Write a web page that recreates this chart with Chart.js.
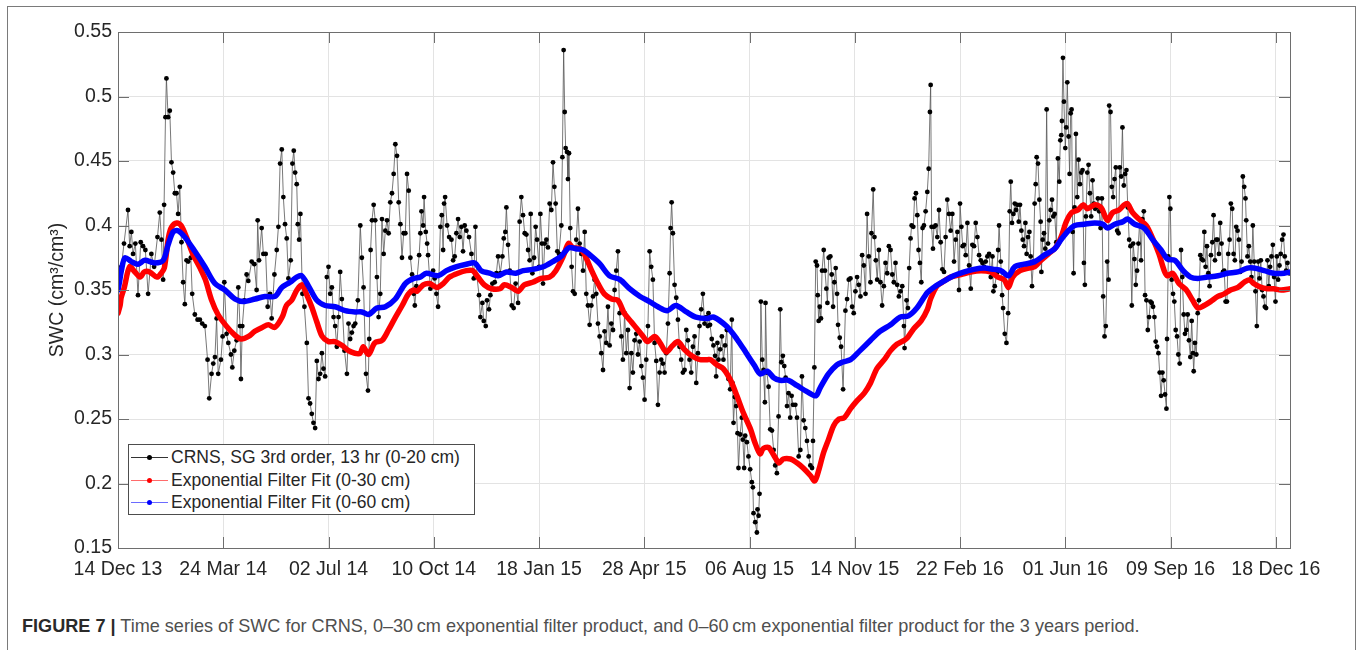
<!DOCTYPE html>
<html>
<head>
<meta charset="utf-8">
<script src="https://cdn.jsdelivr.net/npm/chart.js@4.4.0/dist/chart.umd.min.js"></script>
<style>
html, body { margin: 0; padding: 0; background: #fff; overflow: hidden; }
body { width: 1357px; height: 650px; position: relative; font-family: "Liberation Sans", Arial, sans-serif; }
#frame { position: absolute; left: 7px; top: 6px; width: 1349px; height: 700px; border: 1px solid #7a7a7a; box-sizing: border-box; }
#wrap { position: absolute; left: 0; top: 0; width: 1357px; height: 600px; }
#legend { position: absolute; left: 128px; top: 444px; width: 347px; height: 71px; border: 1px solid #4d4d4d; background: #fff; box-sizing: border-box; }
.row { position: absolute; left: 0; width: 100%; height: 22px; }
.row .ln { position: absolute; left: 2px; width: 37px; top: 11px; height: 1px; }
.row .dot { position: absolute; left: 18px; top: 9px; width: 5px; height: 5px; border-radius: 50%; }
.row .tx { position: absolute; left: 42px; top: 0; line-height: 22px; font-size: 17.5px; color: #262626; white-space: nowrap; }
#caption { position: absolute; left: 22px; top: 616px; font-size: 18.1px; line-height: 20px; color: #4f4f4f; white-space: nowrap; }
#caption b { color: #2a2a2a; }
</style>
</head>
<body>
<div id="frame"></div>
<div id="wrap"><canvas id="swcChart" width="1357" height="600"></canvas></div>
<div id="legend"></div>
<div id="caption"><b>FIGURE 7 |</b> Time series of SWC for CRNS, 0–30&#8201;cm exponential filter product, and 0–60&#8201;cm exponential filter product for the 3 years period.</div>
<script>
// days since 14 Dec 2013
const xTickDays = [0, 100, 200, 300, 400, 500, 600, 700, 800, 900, 1000, 1100];
const xTickLabels = ['14 Dec 13', '24 Mar 14', '02 Jul 14', '10 Oct 14', '18 Jan 15', '28 Apr 15',
  '06 Aug 15', '14 Nov 15', '22 Feb 16', '01 Jun 16', '09 Sep 16', '18 Dec 16'];
const yTicks = [0.15, 0.2, 0.25, 0.3, 0.35, 0.4, 0.45, 0.5, 0.55];

const seriesNames = ['CRNS, SG 3rd order, 13 hr (0-20 cm)', 'Exponential Filter Fit (0-30 cm)', 'Exponential Filter Fit (0-60 cm)'];

// CRNS (black)
const blackDays = [
  1.6,3.2,5.7,9.5,11.1,12.7,14.3,16.5,19,21.6,23.8,26,28.6,31.7,34.3,37.5,39.7,41.3,42.9,43.8,
  45.1,46,47.6,49.2,50.8,52.4,54,55.6,57.1,58.7,60.3,61.9,63.5,65.1,66.7,69.2,70.5,73,75.6,77.8,
  80,82.5,85.1,86.7,88.9,90.5,92.1,93.7,95.2,97.8,99.4,101,103.2,104.8,107.3,108.6,110.5,112.7,114.3,115.9,
  116.8,118.1,120,122.2,123.8,127,129.5,131.7,132.7,134,136.5,138.1,140.3,142.2,144.4,146,148.6,150.8,152.4,154,
  155.6,157.1,158.7,160.3,161.9,164.1,165.7,167,168.3,169.8,170.8,172.1,173.3,175.2,177.1,179.4,181,182.5,184.1,185.7,
  187.3,188.9,190.5,192.1,193.7,195.2,196.8,198.4,200,201.6,203.2,204.8,206.3,207.9,209.5,211.1,212.7,215.2,217.5,219,
  220.6,222.2,223.8,225.4,227.9,230.2,231.7,233.3,235.6,237.5,238.7,240,241.3,242.9,244.4,246,247.6,249.2,250.8,252.4,
  254,255.6,257.1,258.7,260.3,261.9,263.5,265.1,266.7,268.3,269.8,271.4,273,274.6,276.2,277.8,279.4,281,
  282,283.5,286.1,287.3,288.3,289.9,290.8,292.4,293.7,294.6,296.8,299.4,300.9,302.5,304.1,306.3,307.6,308.9,309.8,310.8,
  312.7,314.6,316.8,318.4,319.9,321.5,323.1,324.7,326.3,327.8,329.4,331,333.5,335.8,338,339.6,341.1,343,344.3,346.2,
  347.5,349.4,350.6,352.5,353.8,355.7,357.9,359.5,361.1,363.3,365.2,366.5,368,369,370.6,372.2,374.1,375.9,377.8,380.1,
  381.6,383.2,384.8,386.4,388,389.6,391.1,392.1,393.7,395.3,396.8,398.1,400,401.3,402.8,403.8,405.4,407,408.5,410.1,
  411.7,413.3,414.6,415.8,417.4,419,421.2,422.2,423.4,424.4,425.3,426.6,427.5,428.5,429.7,431,432.3,433.9,435.4,437,
  438.6,440.2,441.8,443.4,444.9,446.5,448.1,449.7,451.3,452.8,454.4,456,457.6,459.2,460.8,462.3,463.9,465.5,467.1,468.7,
  470.3,471.8,473.4,475,476.6,478.2,479.7,481.3,482.9,484.5,486.1,487.7,489.2,490.8,492.4,494,495.6,497.2,498.7,500.3,
  501.9,503.5,505.1,506.6,508.2,509.8,511.4,513,514.6,516.1,517.7,519.3,520.9,522.5,524.1,525,526,527.2,528.8,530.4,
  532,533.5,535.1,536.7,538.3,539.9,541.5,543,544.6,546.2,547.8,549.4,551,552.5,554.1,555.7,557.3,558.9,560.4,
  561,562.5,564.1,565.7,567.3,568.3,569.5,570.5,572.1,573.7,575.2,576.8,578.4,580,581.6,583.2,583.8,584.8,586,587.3,
  588.6,589.5,591.1,592.7,593.7,594.9,595.9,597.5,599,600.6,602.2,603.2,603.8,605.4,607,607.6,608.6,609.5,610.8,612.1,
  613.3,614.6,615.2,616.5,618.1,619.7,621.3,622.9,624.4,626,627.6,629.2,630.2,631.7,633,634.3,635.6,637.1,638.7,640,
  641.3,643.5,645.1,646.7,648.3,649.8,651.4,653,654.6,656.2,657.8,659.4,660.3,661.6,662.9,
  664.1,664.8,665.7,666.7,667.9,668.9,670.5,671.7,673,674,675.2,676.8,678.1,679.4,680.6,681.9,683.2,684.1,685.7,687,
  688.9,691.1,692.7,694.3,695.9,697.5,699,700.6,702.2,703.8,705.4,707,708.6,710.2,711.7,713.3,714.9,715.9,717.5,718.7,
  720,721.3,722.9,724.4,726,727.6,729.2,730.8,732.4,734,735.6,737.1,738.7,740.3,741.9,743.5,745.1,746.7,747.3,749.2,
  750.5,751.7,753,754,755.6,756.8,758.1,759.4,760.6,761.9,763.2,764.4,765.7,767.3,768.9,770.2,771.4,772.1,773,774.3,
  775.2,776.8,778.4,780,781.6,783.2,784.8,786.3,787.9,789.5,791.1,792.7,794.3,795.9,797.5,799,800,801.3,802.5,803.8,
  805.4,807,808.6,810.2,811.7,813.3,814.9,816.5,818.1,819.7,821.3,822.9,824.4,826,827.6,829.2,830.8,831.7,833,834.9,
  836.2,837.1,
  838.7,840,840.9,842.5,844.1,845.7,847.2,848.2,849.4,850.7,852,853.2,854.5,855.8,857,858.3,859.6,860.8,862.1,863.3,
  864.6,865.9,867.1,868.4,869.7,870.9,871.9,872.8,874.1,875.4,876.6,877.3,878.5,879.8,881,882.3,883.6,884.8,886.1,887.4,
  888.6,889.9,891.5,893,894.3,895.3,896.2,896.8,897.8,898.7,900,900.9,901.9,903.2,904.1,905.1,906,907,907.9,908.8,
  910.1,911.4,912.6,913.9,915.2,916.4,917.7,918.6,919.6,920.9,922.1,923.4,924.6,925.9,927.2,928.4,929.7,931,932.2,933.5,
  934.8,936,937.3,938.5,939.8,941.1,941.7,943,944.2,945.5,946.8,948,949.3,950.6,951.8,953.1,954.3,955.6,956.9,958.1,
  959.4,960.7,961.9,963.2,964.5,965.7,967,968.2,969.5,970.8,972,973.3,974.6,975.8,977.1,978.4,979.6,980.9,982.1,983.4,
  984.7,985.9,987.2,988.5,989.7,991,992.3,993.5,994.8,996.1,996.7,997.9,998.9,999.8,1001.1,1002.4,1003.6,1004.9,1006.2,1007.4,
  1008.7,1010,1011.2,1012.5,1013.7,1015,1016.3,1017.5,1018.8,1020.1,1021.3,1022,1023.2,1024.5,1025.8,1027,1028.3,1029.5,1030.8,1032.1,
  1033.3,1034.6,1035.9,1037.1,1038.4,1039.7,1040.9,1042.2,1043.4,1044.7,1046,1047.2,1048.5,1049.8,1051,1052.3,1053.6,1054.8,1056.1,1057.3,
  1058.6,1059.9,1061.1,1062.4,1063.7,1064.9,1066.2,1067.5,1068.7,1070,1071.2,1071.9,1073.1,1074.4,1075.7,1076.9,1078.2,1079.5,1080.7,1082,
  1083.3,1084.5,1085.8,1087,1088.3,1089.6,1090.8,1092.1,1093.4,1094.6,1095.9,1097.2,1098.4,1099.7,1101,1102.2,1103.5,1104.7,1106,1107.3,
  1108.5,1109.8,1111.1,1112.7
];
const blackSWC = [
  0.362,0.368,0.386,0.412,0.384,0.395,0.378,0.386,0.346,0.387,0.384,0.381,0.347,0.378,0.368,0.391,0.41,0.389,0.358,0.416,
  0.484,0.514,0.484,0.489,0.449,0.441,0.425,0.425,0.409,0.43,0.387,0.356,0.339,0.373,0.372,0.375,0.347,0.331,0.327,0.327,
  0.324,0.322,0.296,0.266,0.285,0.293,0.298,0.328,0.285,0.296,0.314,0.356,0.316,0.309,0.3,0.29,0.303,0.311,0.352,0.322,
  0.281,0.322,0.342,0.362,0.357,0.372,0.37,0.35,0.404,0.373,0.398,0.378,0.378,0.337,0.347,0.328,0.362,0.381,0.399,0.448,
  0.459,0.422,0.401,0.39,0.359,0.373,0.448,0.458,0.441,0.432,0.401,0.389,0.409,0.347,0.337,0.309,0.266,0.262,0.254,0.247,
  0.243,0.295,0.281,0.285,0.301,0.289,0.283,0.36,0.368,0.347,0.352,0.329,0.322,0.306,0.329,0.364,0.343,0.303,0.285,0.324,
  0.312,0.317,0.322,0.324,0.342,0.4,0.375,0.352,0.285,0.272,0.312,0.381,0.404,0.416,0.404,0.36,0.329,0.347,0.405,0.378,
  0.396,0.404,0.394,0.418,0.425,0.44,0.463,0.454,0.418,0.401,0.375,0.394,0.394,0.44,0.427,0.375,0.362,0.347,
  0.338,0.353,0.377,0.394,0.411,0.4,0.422,0.395,0.386,0.377,0.351,0.365,0.359,0.347,0.337,0.399,0.408,0.381,0.417,0.422,
  0.4,0.391,0.389,0.373,0.376,0.394,0.405,0.391,0.399,0.38,0.4,0.396,0.391,0.378,0.359,0.399,0.36,0.346,0.329,0.34,
  0.326,0.322,0.342,0.335,0.346,0.355,0.356,0.363,0.376,0.363,0.376,0.39,0.395,0.414,0.385,0.365,0.338,0.336,0.355,0.34,
  0.403,0.422,0.408,0.394,0.393,0.381,0.373,0.409,0.363,0.375,0.399,0.389,0.368,0.409,0.386,0.355,0.386,0.389,0.383,0.417,
  0.412,0.449,0.43,0.417,0.38,0.378,0.4,0.453,0.536,0.488,0.46,0.457,0.436,0.456,0.398,0.368,0.349,0.347,0.389,0.413,
  0.386,0.378,0.365,0.395,0.347,0.338,0.323,0.338,0.345,0.358,0.347,0.324,0.314,0.301,0.288,0.318,0.309,0.337,0.307,0.324,
  0.319,0.35,0.365,0.38,0.332,0.314,0.296,0.332,0.301,0.319,0.274,0.301,0.286,0.311,0.316,0.3,0.31,0.291,0.282,0.265,
  0.296,0.322,0.38,0.368,0.358,0.309,0.295,0.261,0.286,0.296,0.293,0.286,0.301,0.324,0.363,0.398,0.418,0.394,0.354,0.344,
  0.327,0.306,0.296,0.286,0.288,0.319,0.311,0.296,0.286,0.306,0.314,0.278,0.301,0.322,0.335,0.347,0.324,0.329,0.322,
  0.332,0.323,0.312,0.307,0.299,0.283,0.309,0.296,0.304,0.314,0.296,0.307,0.319,0.281,0.273,0.327,0.278,0.247,0.267,0.26,
  0.239,0.212,0.238,0.251,0.234,0.212,0.237,0.232,0.221,0.211,0.201,0.197,0.177,0.17,0.162,0.18,0.175,0.192,0.341,0.296,
  0.288,0.263,0.34,0.286,0.275,0.242,0.241,0.226,0.214,0.208,0.252,0.335,0.294,0.299,0.291,0.282,0.26,0.27,0.251,0.268,
  0.261,0.261,0.251,0.221,0.226,0.283,0.249,0.243,0.233,0.221,0.214,0.212,0.233,0.29,0.372,
  0.369,0.346,0.326,0.337,0.328,0.365,0.381,0.365,0.351,0.34,0.375,0.376,0.362,0.337,0.356,0.367,0.347,0.323,0.313,0.306,
  0.273,0.334,0.343,0.358,0.359,0.337,0.332,0.349,0.36,0.354,0.345,0.377,0.369,0.347,0.409,0.376,0.356,0.394,0.428,0.391,
  0.373,0.358,0.381,0.356,0.338,0.353,0.371,0.363,0.384,0.381,0.362,0.356,0.371,0.354,0.345,0.349,0.353,0.322,0.305,0.342,
  0.336,0.367,0.39,0.4,0.399,0.421,0.425,0.408,0.381,0.371,0.356,0.398,0.4,0.411,0.426,0.444,0.488,0.509,0.399,0.382,
  0.399,0.4,0.391,0.412,0.387,0.366,0.364,0.391,0.42,0.409,0.396,0.409,0.372,0.389,0.395,0.35,0.417,0.399,0.384,0.385,
  0.377,0.402,0.369,0.351,0.385,0.384,0.402,0.391,0.377,0.373,0.371,0.368,0.372,0.376,0.378,0.36,0.376,0.349,0.353,0.363,
  0.381,0.4,
  0.372,0.346,0.336,0.316,0.309,0.332,0.411,0.434,0.402,0.409,0.417,0.412,0.416,0.403,0.416,0.396,0.389,0.384,0.402,0.378,
  0.391,0.395,0.376,0.353,0.372,0.417,0.432,0.453,0.448,0.42,0.403,0.364,0.389,0.394,0.382,0.49,0.386,0.404,0.412,0.42,
  0.407,0.409,0.387,0.452,0.434,0.466,0.47,0.481,0.53,0.496,0.46,0.476,0.511,0.469,0.44,0.487,0.49,0.395,0.363,0.414,
  0.471,0.422,0.451,0.432,0.441,0.443,0.371,0.354,0.407,0.441,0.447,0.425,0.407,0.435,0.417,0.413,0.414,0.421,0.411,0.398,
  0.421,0.345,0.314,0.322,0.372,0.358,0.493,0.488,0.43,0.422,0.436,0.445,0.396,0.394,0.445,0.438,0.476,0.431,0.44,0.443,
  0.414,0.389,0.384,0.338,0.386,0.374,0.354,0.365,0.386,0.405,0.373,0.405,0.411,0.346,0.342,0.319,0.329,0.341,0.34,0.337,
  0.329,0.31,0.306,0.301,0.286,0.268,0.286,0.28,0.269,0.258,0.312,0.376,0.422,0.413,0.358,0.347,0.341,0.319,0.314,0.3,
  0.293,0.381,0.36,0.331,0.316,0.319,0.331,0.311,0.298,0.326,0.301,0.287,0.309,0.3,0.332,0.342,0.377,0.374,0.373,0.395,
  0.368,0.384,0.363,0.353,0.377,0.387,0.408,0.373,0.389,0.389,0.378,0.402,0.386,0.364,0.365,0.341,0.341,0.378,0.389,0.417,
  0.413,0.378,0.373,0.399,0.396,0.389,0.364,0.372,0.438,0.43,0.421,0.404,0.376,0.384,0.372,0.36,0.4,0.372,0.349,0.322,
  0.372,0.359,0.373,0.35,0.345,0.337,0.336,0.373,0.353,0.368,0.376,0.385,0.36,0.341,0.376,0.358,0.369,0.378,0.389,0.393,
  0.376,0.365,0.371,0.363
];

// Exponential filter 0-30 cm (red)
const redDays = [
  0,2,3,6,11,16,21,25,30,37,41,44,48,51,56,60,65,71,78,83,89,95,103,111,117,124,130,137,143,149,
  156,160,165,170,175,179,184,189,194,200,206,213,219,225,230,233,238,244,251,257,263,270,276,281,
  284,290,296,303,309,315,323,331,337,342,348,355,363,367,374,380,386,394,402,410,416,423,428,432,439,443,
  450,456,462,469,475,481,488,494,499,503,510,515,521,527,532,538,545,553,560,
  563,569,575,582,588,594,601,605,610,613,618,623,628,632,639,645,651,658,662,666,670,675,680,685,690,696,
  702,709,715,721,728,734,740,747,750,756,763,769,772,778,785,791,801,810,820,829,
  836,842,846,850,857,865,871,877,884,891,896,901,906,912,917,921,928,934,940,945,951,956,959,964,970,977,
  983,989,994,997,1002,1008,1015,1021,1026,1032,1038,1045,1051,1057,1064,1070,1075,1079,1086,1092,1098,1105,1114
];
const redSWC = [
  0.332,0.338,0.344,0.352,0.368,0.364,0.36,0.364,0.364,0.36,0.363,0.367,0.391,0.399,0.402,0.4,0.391,0.378,0.367,0.358,
  0.342,0.331,0.322,0.315,0.312,0.314,0.318,0.321,0.323,0.321,0.329,0.338,0.342,0.35,0.354,0.347,0.337,0.325,0.314,0.31,
  0.31,0.307,0.303,0.301,0.301,0.306,0.3,0.309,0.311,0.319,0.328,0.338,0.347,0.35,
  0.349,0.354,0.355,0.352,0.355,0.36,0.363,0.365,0.365,0.36,0.354,0.351,0.351,0.354,0.352,0.349,0.354,0.356,0.359,0.36,
  0.365,0.376,0.386,0.383,0.382,0.378,0.365,0.355,0.347,0.343,0.342,0.332,0.325,0.319,0.314,0.31,0.314,0.309,0.302,0.307,
  0.31,0.304,0.299,0.296,0.296,
  0.296,0.292,0.289,0.28,0.268,0.255,0.242,0.232,0.223,0.227,0.228,0.222,0.216,0.219,0.219,0.216,0.212,0.206,0.202,0.211,
  0.223,0.234,0.245,0.25,0.251,0.258,0.264,0.27,0.278,0.289,0.296,0.303,0.308,0.311,0.313,0.32,0.326,0.335,0.343,0.353,
  0.357,0.36,0.362,0.364,0.365,0.364,
  0.36,0.358,0.352,0.36,0.365,0.367,0.368,0.373,0.378,0.383,0.391,0.403,0.41,0.412,0.416,0.413,0.416,0.414,0.404,0.41,
  0.412,0.416,0.417,0.41,0.405,0.4,0.39,0.378,0.365,0.361,0.363,0.355,0.35,0.342,0.336,0.338,0.341,0.345,0.347,0.35,
  0.352,0.356,0.358,0.355,0.352,0.351,0.351,0.35,0.351
];

// Exponential filter 0-60 cm (blue)
const blueDays = [
  0,1.6,3.2,6.6,12.7,19,25.4,34.9,42.9,47.6,52.4,57.1,63.5,73,82.5,92.1,101.6,111.1,119,130.2,
  139.7,149.2,155.6,163.5,169.8,174.6,181,188.9,196.8,206.3,215.9,225.4,231.7,238.1,246,254,263.5,273,281,
  287,293,304,312,321,331,339,345,353,361,369,378,385,394,404,413,421,426,429,435,
  442,450,458,467,477,486,496,505,513,522,530,540,549,560,
  566,578,588,597,605,610,617,623,629,637,645,655,663,667,675,683,688,696,705,715,
  724,734,743,751,759,769,775,785,794,804,813,823,832,
  839,846,852,861,871,880,890,896,903,909,918,928,936,940,947,955,959,966,975,983,
  991,997,1004,1012,1019,1026,1035,1045,1054,1064,1073,1079,1089,1098,1108,1114
];
const blueSWC = [
  0.35,0.357,0.365,0.375,0.372,0.37,0.373,0.371,0.373,0.385,0.395,0.396,0.391,0.38,0.368,0.355,0.35,0.343,0.341,0.343,
  0.345,0.345,0.352,0.356,0.36,0.361,0.353,0.342,0.338,0.337,0.334,0.333,0.333,0.331,0.336,0.337,0.343,0.355,0.359,
  0.36,0.363,0.361,0.365,0.368,0.37,0.371,0.365,0.363,0.361,0.364,0.363,0.365,0.366,0.368,0.372,0.376,0.381,0.383,0.382,
  0.381,0.376,0.37,0.361,0.358,0.351,0.345,0.341,0.337,0.334,0.338,0.333,0.329,0.328,
  0.329,0.322,0.312,0.301,0.291,0.285,0.287,0.282,0.28,0.28,0.276,0.271,0.268,0.274,0.285,0.292,0.294,0.296,0.303,0.311,
  0.318,0.323,0.329,0.33,0.336,0.348,0.352,0.357,0.361,0.364,0.366,0.367,0.366,
  0.365,0.361,0.368,0.37,0.372,0.377,0.382,0.389,0.396,0.4,0.401,0.402,0.401,0.398,0.401,0.403,0.405,0.401,0.398,0.389,
  0.381,0.374,0.373,0.365,0.36,0.359,0.36,0.361,0.363,0.364,0.367,0.367,0.365,0.363,0.363,0.364
];

const FONT = '"Liberation Sans", Arial, Helvetica, sans-serif';

function toXY(days, vals) {
  return days.map((d, i) => ({ x: d, y: vals[i] }));
}

// MATLAB style box with inward ticks
const axesBox = {
  id: 'axesBox',
  afterDatasetsDraw(chart) {
    const { ctx, chartArea: a, scales } = chart;
    ctx.save();
    ctx.strokeStyle = '#6e6e6e';
    ctx.lineWidth = 1;
    ctx.strokeRect(Math.round(a.left) + 0.5, Math.round(a.top) + 0.5, Math.round(a.right - a.left), Math.round(a.bottom - a.top));
    const len = 11;
    ctx.beginPath();
    xTickDays.forEach(d => {
      const px = Math.round(scales.x.getPixelForValue(d)) + 0.5;
      ctx.moveTo(px, a.bottom); ctx.lineTo(px, a.bottom - len);
      ctx.moveTo(px, a.top); ctx.lineTo(px, a.top + len);
    });
    yTicks.forEach(v => {
      const py = Math.round(scales.y.getPixelForValue(v)) + 0.5;
      ctx.moveTo(a.left, py); ctx.lineTo(a.left + len, py);
      ctx.moveTo(a.right, py); ctx.lineTo(a.right - len, py);
    });
    ctx.stroke();
    ctx.restore();
  }
};

const ctx = document.getElementById('swcChart').getContext('2d');
const swcChart = new Chart(ctx, {
  type: 'line',
  data: {
    datasets: [
      {
        label: seriesNames[2],
        data: toXY(blueDays, blueSWC),
        borderColor: '#0000ff',
        borderWidth: 5.5,
        pointRadius: 0,
        tension: 0.3,
        borderCapStyle: 'round',
        borderJoinStyle: 'round',
        order: 1
      },
      {
        label: seriesNames[1],
        data: toXY(redDays, redSWC),
        borderColor: '#ff0000',
        borderWidth: 5.5,
        pointRadius: 0,
        tension: 0.3,
        borderCapStyle: 'round',
        borderJoinStyle: 'round',
        order: 2
      },
      {
        label: seriesNames[0],
        data: toXY(blackDays, blackSWC),
        borderColor: '#555555',
        borderWidth: 0.8,
        pointRadius: 2.4,
        pointBorderWidth: 0,
        pointBackgroundColor: '#000000',
        tension: 0,
        order: 3
      }
    ]
  },
  options: {
    responsive: false,
    animation: false,
    layout: { padding: { left: 0, top: 32, right: 67, bottom: 0 } },
    plugins: { legend: { display: false }, tooltip: { enabled: false } },
    scales: {
      x: {
        type: 'linear',
        min: 0,
        max: 1113.5,
        afterBuildTicks: (s) => { s.ticks = xTickDays.map(v => ({ value: v })); },
        afterFit: (s) => { s.height = 52; },
        grid: { color: '#e3e3e3', drawTicks: false },
        border: { display: false },
        ticks: {
          padding: 10,
          autoSkip: false,
          maxRotation: 0,
          color: '#262626',
          font: { family: FONT, size: 19.5 },
          callback: (v) => xTickLabels[xTickDays.indexOf(v)]
        }
      },
      y: {
        min: 0.15,
        max: 0.55,
        afterBuildTicks: (s) => { s.ticks = yTicks.map(v => ({ value: v })); },
        afterFit: (s) => { s.width = 118; },
        grid: { color: '#e3e3e3', drawTicks: false },
        border: { display: false },
        ticks: {
          padding: 6,
          color: '#262626',
          font: { family: FONT, size: 19.5 },
          callback: (v) => String(parseFloat(v.toFixed(2)))
        },
        title: {
          display: true,
          text: 'SWC (cm³/cm³)',
          color: '#262626',
          font: { family: FONT, size: 19.5 },
          padding: { top: 46, bottom: 0 }
        }
      }
    }
  },
  plugins: [axesBox]
});

// legend box (MATLAB style, inside the axes)
const legendColors = ['#000000', '#ff0000', '#0000ff'];
const legendLines = ['#333333', '#ff6b6b', '#6b6bff'];
const rowTops = [1, 24, 46];
const legendEl = document.getElementById('legend');
seriesNames.forEach((name, i) => {
  const row = document.createElement('div');
  row.className = 'row';
  row.style.top = rowTops[i] + 'px';
  row.innerHTML = '<div class="ln" style="background:' + legendLines[i] + '"></div>' +
    '<div class="dot" style="background:' + legendColors[i] + '"></div>' +
    '<div class="tx">' + name + '</div>';
  legendEl.appendChild(row);
});
</script>
</body>
</html>
